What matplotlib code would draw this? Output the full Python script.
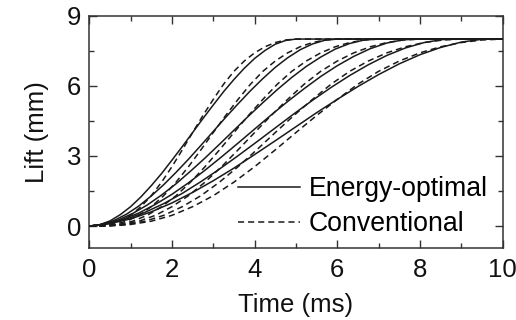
#!/usr/bin/env python3
import matplotlib
matplotlib.use('Agg')
import matplotlib.pyplot as plt

plt.rcParams['font.family'] = ['Liberation Sans', 'DejaVu Sans']

# valve opening durations (ms); each curve rises 0 -> 8 mm, then stays flat to 10 ms
t5 = [0, 0.25, 0.5, 0.75, 1, 1.25, 1.5, 1.75, 2, 2.25, 2.5, 2.75, 3, 3.25, 3.5, 3.75, 4, 4.25, 4.5, 4.75, 5, 10]
t6 = [0, 0.3, 0.6, 0.9, 1.2, 1.5, 1.8, 2.1, 2.4, 2.7, 3, 3.3, 3.6, 3.9, 4.2, 4.5, 4.8, 5.1, 5.4, 5.7, 6, 10]
t7 = [0, 0.35, 0.7, 1.05, 1.4, 1.75, 2.1, 2.45, 2.8, 3.15, 3.5, 3.85, 4.2, 4.55, 4.9, 5.25, 5.6, 5.95, 6.3, 6.65, 7, 10]
t8 = [0, 0.4, 0.8, 1.2, 1.6, 2, 2.4, 2.8, 3.2, 3.6, 4, 4.4, 4.8, 5.2, 5.6, 6, 6.4, 6.8, 7.2, 7.6, 8, 10]
t9 = [0, 0.45, 0.9, 1.35, 1.8, 2.25, 2.7, 3.15, 3.6, 4.05, 4.5, 4.95, 5.4, 5.85, 6.3, 6.75, 7.2, 7.65, 8.1, 8.55, 9, 10]
t10 = [0, 0.5, 1, 1.5, 2, 2.5, 3, 3.5, 4, 4.5, 5, 5.5, 6, 6.5, 7, 7.5, 8, 8.5, 9, 9.5, 10, 10]

# energy-optimal lift (mm)
opt5 = [0, 0.06, 0.22, 0.49, 0.83, 1.25, 1.73, 2.25, 2.82, 3.40, 4.00, 4.60, 5.18, 5.75, 6.27, 6.75, 7.17, 7.51, 7.78, 7.94, 8.0, 8.0]
opt6 = [0, 0.07, 0.24, 0.51, 0.86, 1.29, 1.77, 2.30, 2.86, 3.45, 4.05, 4.65, 5.23, 5.79, 6.31, 6.79, 7.20, 7.54, 7.79, 7.95, 8.0, 8.0]
opt7 = [0, 0.08, 0.26, 0.54, 0.90, 1.33, 1.81, 2.35, 2.91, 3.50, 4.10, 4.70, 5.28, 5.84, 6.36, 6.83, 7.23, 7.57, 7.81, 7.96, 8.0, 8.0]
opt8 = [0, 0.09, 0.28, 0.56, 0.93, 1.36, 1.85, 2.39, 2.96, 3.55, 4.15, 4.75, 5.33, 5.88, 6.40, 6.86, 7.26, 7.59, 7.83, 7.97, 8.0, 8.0]
opt9 = [0, 0.10, 0.30, 0.59, 0.96, 1.40, 1.90, 2.44, 3.01, 3.60, 4.20, 4.80, 5.38, 5.93, 6.44, 6.90, 7.30, 7.62, 7.85, 7.98, 8.0, 8.0]
opt10 = [0, 0.11, 0.31, 0.61, 0.99, 1.44, 1.94, 2.48, 3.06, 3.65, 4.25, 4.85, 5.42, 5.97, 6.48, 6.94, 7.33, 7.64, 7.87, 7.99, 8.0, 8.0]

# conventional lift (mm), same shape for every duration
conv = [0, 0.01, 0.07, 0.21, 0.46, 0.83, 1.30, 1.88, 2.54, 3.26, 4.00, 4.73, 5.42, 6.07, 6.62, 7.06, 7.41, 7.67, 7.85, 7.96, 8.0, 8.0]

times = [t5, t6, t7, t8, t9, t10]
optimal = [opt5, opt6, opt7, opt8, opt9, opt10]

fig = plt.figure(figsize=(5.16, 3.2), dpi=100)
ax = fig.add_axes([0.173, 0.224, 0.801, 0.727])

col = '#1a1a1a'
for i, t in enumerate(times):
    ax.plot(t, conv, color=col, lw=1.1, ls=(0, (4, 2.6)),
            label='Conventional' if i == 0 else None, zorder=2)
    ax.plot(t, optimal[i], color=col, lw=1.1,
            label='Energy-optimal' if i == 0 else None, zorder=3)

ax.set_xlim(0, 10)
ax.set_ylim(-0.95, 9)
ax.set_xticks([0, 2, 4, 6, 8, 10])
ax.set_xticks([1, 3, 5, 7, 9], minor=True)
ax.set_yticks([0, 3, 6, 9])
ax.set_yticks([1.5, 4.5, 7.5], minor=True)
ax.tick_params(which='both', direction='in', top=True, right=True,
               width=1.0, color='#333333', labelsize=18.5, labelcolor='#111111')
ax.tick_params(which='major', length=6)
ax.tick_params(which='minor', length=3.5)
ax.tick_params(axis='x', pad=7)
ax.tick_params(axis='y', pad=6)
for s in ax.spines.values():
    s.set_linewidth(1.1)
    s.set_color('#333333')

ax.set_xlabel('Time (ms)', fontsize=18.5, labelpad=8, color='#111111')
ax.set_ylabel('Lift (mm)', fontsize=18.5, labelpad=13, color='#111111')

h, l = ax.get_legend_handles_labels()
ax.legend([h[1], h[0]], [l[1], l[0]], loc='lower right', bbox_to_anchor=(0.965, 0.048),
          frameon=False, fontsize=19.2, handlelength=2.3, handletextpad=0.35,
          labelspacing=0.33, borderpad=0, borderaxespad=0)

fig.savefig('out.png', dpi=100)
